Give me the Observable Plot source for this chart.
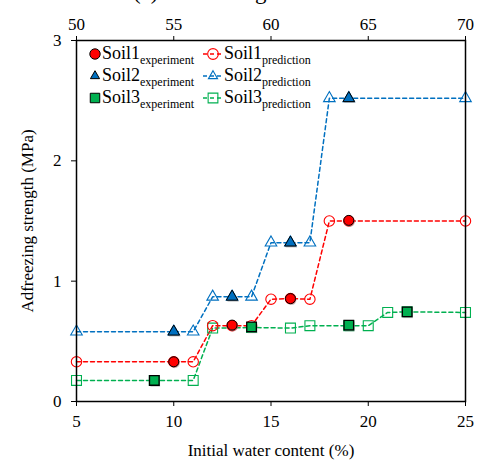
<!DOCTYPE html>
<html>
<head>
<meta charset="utf-8">
<script src="https://cdn.jsdelivr.net/npm/d3@7"></script>
<script src="https://cdn.jsdelivr.net/npm/@observablehq/plot@0.6"></script>
<style>
  body { margin: 0; background: #fff; }
  #wrap { position: relative; width: 480px; height: 460px; font-family: "Liberation Serif", serif; }
  #wrap svg text { font-family: "Liberation Serif", serif; }
  #title { position: absolute; left: 0; top: 0; overflow: hidden; }
  .leg { position: absolute; display: flex; align-items: center; font-size: 18px; color: #000; white-space: nowrap; font-family: "Liberation Serif", serif; }
  .leg sub { font-size: 12px; vertical-align: -5px; line-height: 0; }
</style>
</head>
<body>
<div id="wrap"></div>
<script>
// ---- data ----
const xTicks = [5, 10, 15, 20, 25];
const topTickLabels = ["50", "55", "60", "65", "70"];
const yTicks = [0, 1, 2, 3];

const soil1PredX = [5, 10, 11, 12, 13, 14, 15, 16, 17, 18, 19, 25];
const soil1PredY = [0.33, 0.33, 0.33, 0.63, 0.63, 0.63, 0.85, 0.855, 0.85, 1.5, 1.5, 1.5];
const soil1ExpX = [10, 13, 16, 19];
const soil1ExpY = [0.33, 0.635, 0.855, 1.505];

const soil2PredX = [5, 10, 11, 12, 13, 14, 15, 16, 17, 18, 19, 25];
const soil2PredY = [0.58, 0.58, 0.58, 0.87, 0.87, 0.87, 1.32, 1.32, 1.32, 2.52, 2.52, 2.52];
const soil2ExpX = [10, 13, 16, 19];
const soil2ExpY = [0.58, 0.87, 1.32, 2.52];

const soil3PredX = [5, 9, 11, 12, 14, 16, 17, 19, 20, 21, 22, 25];
const soil3PredY = [0.175, 0.175, 0.175, 0.61, 0.615, 0.61, 0.63, 0.63, 0.63, 0.74, 0.745, 0.74];
const soil3ExpX = [9, 14, 19, 22];
const soil3ExpY = [0.175, 0.62, 0.635, 0.745];

const red = "#ff0000", blue = "#0070c0", green = "#00b050";

const zip = (xs, ys) => xs.map((x, i) => ({x, y: ys[i]}));
const p1 = zip(soil1PredX, soil1PredY), e1 = zip(soil1ExpX, soil1ExpY);
const p2 = zip(soil2PredX, soil2PredY), e2 = zip(soil2ExpX, soil2ExpY);
const p3 = zip(soil3PredX, soil3PredY), e3 = zip(soil3ExpX, soil3ExpY);

const dash = "4,3";
const ff = "Liberation Serif, serif";
const shadow = {dx: 1, dy: 1.5, fill: "#888", fillOpacity: 0.45, stroke: "none"};
const chart = Plot.plot({
  width: 480,
  height: 460,
  marginLeft: 76,
  marginRight: 15,
  marginTop: 40,
  marginBottom: 59,
  style: "font-family: 'Liberation Serif', serif; font-size: 17px; color: #000; background: transparent;",
  x: {domain: [5, 25]},
  y: {domain: [0, 3]},
  marks: [
    Plot.line(p3, {x: "x", y: "y", stroke: green, strokeWidth: 1.5, strokeDasharray: dash}),
    Plot.line(p1, {x: "x", y: "y", stroke: red, strokeWidth: 1.5, strokeDasharray: dash}),
    Plot.line(p2, {x: "x", y: "y", stroke: blue, strokeWidth: 1.5, strokeDasharray: dash}),
    Plot.dot(p3, {x: "x", y: "y", symbol: "square", r: 5.6, stroke: green, fill: "none", strokeWidth: 1.1}),
    Plot.dot(p1, {x: "x", y: "y", symbol: "circle", r: 5.2, stroke: red, fill: "none", strokeWidth: 1.1}),
    Plot.dot(p2, {x: "x", y: "y", symbol: "triangle", r: 4.3, stroke: blue, fill: "none", strokeWidth: 1.1}),
    Plot.dot(e3, {x: "x", y: "y", symbol: "square", r: 5.4, ...shadow}),
    Plot.dot(e1, {x: "x", y: "y", symbol: "circle", r: 5, ...shadow}),
    Plot.dot(e2, {x: "x", y: "y", symbol: "triangle", r: 4.3, ...shadow}),
    Plot.dot(e3, {x: "x", y: "y", symbol: "square", r: 5.4, stroke: "#000", fill: green, strokeWidth: 1.3}),
    Plot.dot(e1, {x: "x", y: "y", symbol: "circle", r: 5, stroke: "#000", fill: red, strokeWidth: 1}),
    Plot.dot(e2, {x: "x", y: "y", symbol: "triangle", r: 4.3, stroke: "#000", fill: blue, strokeWidth: 1}),
    Plot.frame({stroke: "#000", strokeWidth: 1.5}),
    Plot.axisX(xTicks, {anchor: "bottom", tickSize: 5, tickPadding: 8, fontFamily: ff, label: "Initial water content (%)", labelAnchor: "center", labelOffset: 54, labelArrow: "none"}),
    Plot.axisX(xTicks, {anchor: "top", tickSize: 5, tickPadding: 6, fontFamily: ff, tickFormat: d => topTickLabels[xTicks.indexOf(d)], label: null}),
    Plot.axisY(yTicks, {anchor: "left", tickSize: 5, tickPadding: 10, fontFamily: ff, tickFormat: "d", label: "Adfreezing strength (MPa)", labelAnchor: "center", labelOffset: 56, labelArrow: "none"})
  ]
});
const wrap = document.getElementById("wrap");
wrap.appendChild(chart);

// partially visible (clipped) title at top
const ns = "http://www.w3.org/2000/svg";
const tsvg = document.createElementNS(ns, "svg");
tsvg.setAttribute("id", "title");
tsvg.setAttribute("width", 480);
tsvg.setAttribute("height", 8);
const tt = document.createElementNS(ns, "text");
tt.setAttribute("x", 133);
tt.setAttribute("y", -1);
tt.setAttribute("font-size", 23);
tt.setAttribute("font-family", ff);
tt.textContent = "(c) Adfreezing test";
tsvg.appendChild(tt);
wrap.appendChild(tsvg);

// legend
const legendNames = ["Soil1", "Soil2", "Soil3"];
const legendColors = [red, blue, green];
const legendSymbols = ["circle", "triangle", "square"];
function symPath(kind, size) {
  const t = kind === "circle" ? d3.symbolCircle : kind === "triangle" ? d3.symbolTriangle2 : d3.symbolSquare;
  return d3.symbol(t, size)();
}
const expSize = {circle: 85, triangle: 60, square: 90};
const predSize = {circle: 90, triangle: 60, square: 95};
legendNames.forEach((name, i) => {
  const top = 43 + i * 22;
  const s = legendSymbols[i];
  // experiment
  const a = document.createElement("div");
  a.className = "leg";
  a.style.left = "86px"; a.style.top = top + "px";
  a.innerHTML = `<svg width="16" height="18"><path transform="translate(9,9)" d="${symPath(s, expSize[s])}" fill="${legendColors[i]}" stroke="#000" stroke-width="1"/></svg><span>${name}<sub>experiment</sub></span>`;
  wrap.appendChild(a);
  // prediction
  const b = document.createElement("div");
  b.className = "leg";
  b.style.left = "202px"; b.style.top = top + "px";
  b.innerHTML = `<svg width="22" height="18"><line x1="1" x2="21" y1="9" y2="9" stroke="${legendColors[i]}" stroke-width="1.4" stroke-dasharray="4,3"/><path transform="translate(11,9)" d="${symPath(s, predSize[s])}" fill="none" stroke="${legendColors[i]}" stroke-width="1.1"/></svg><span>${name}<sub>prediction</sub></span>`;
  wrap.appendChild(b);
});
</script>
</body>
</html>
